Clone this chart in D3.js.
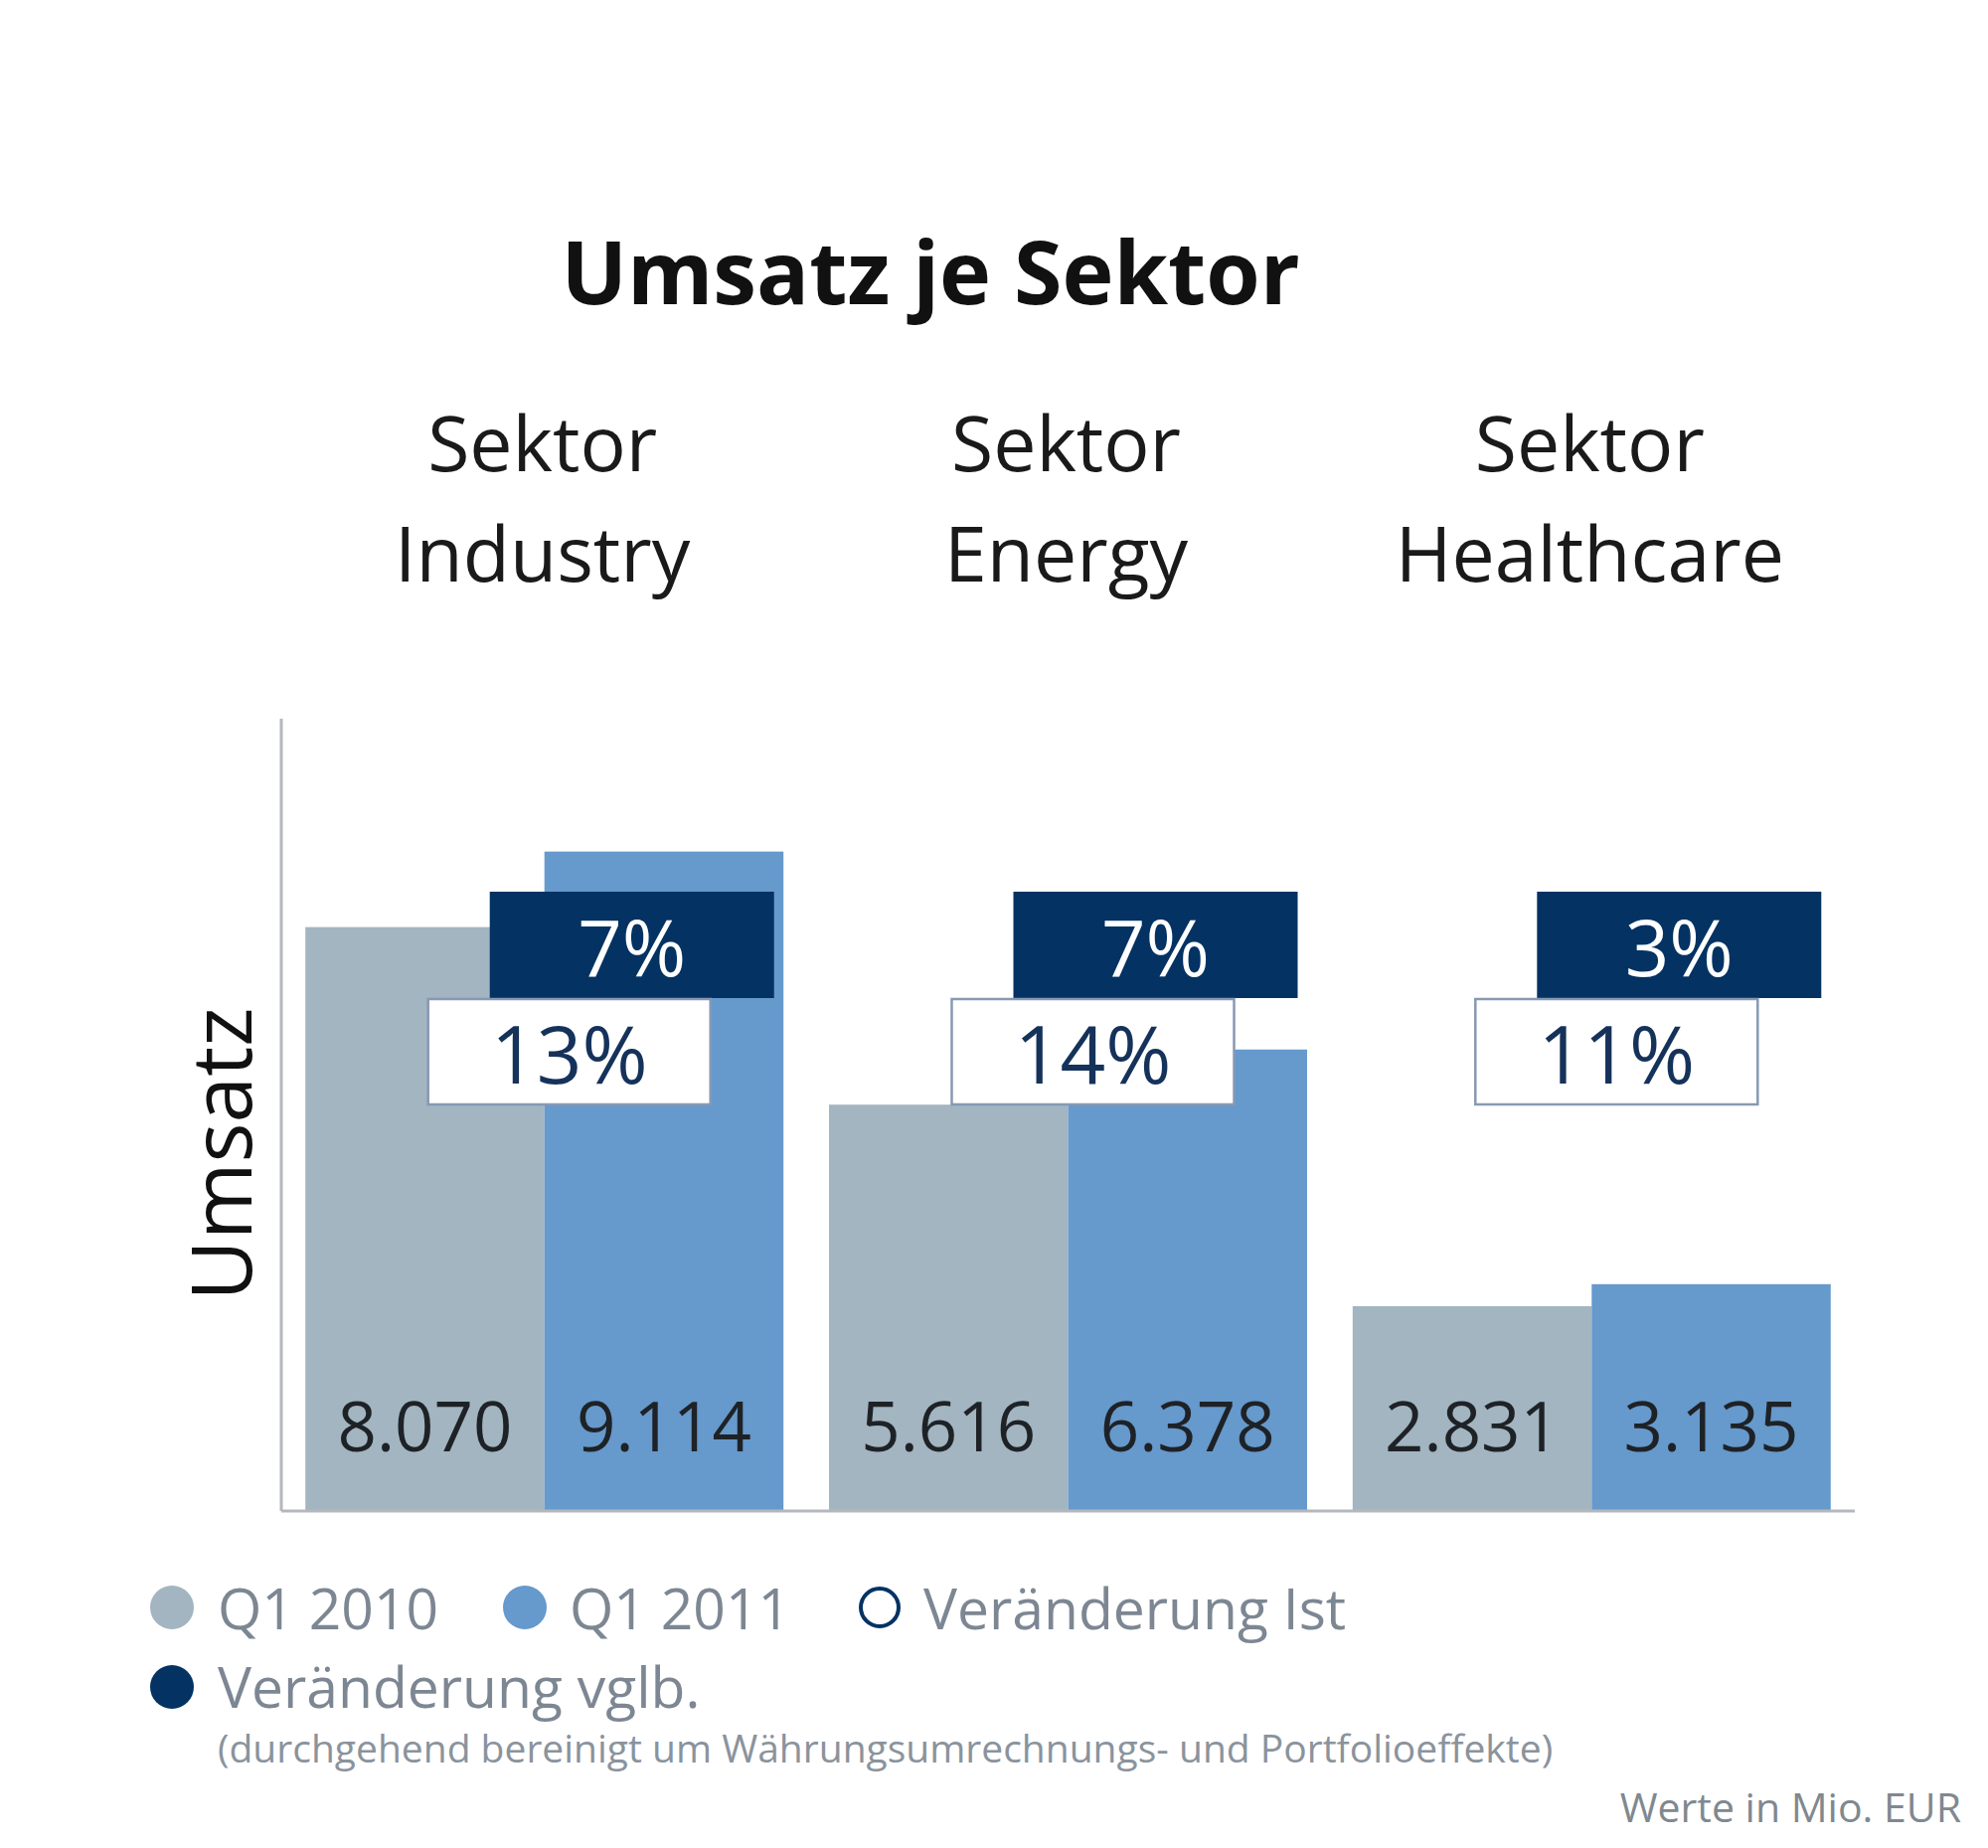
<!DOCTYPE html>
<html><head><meta charset="utf-8">
<script src="https://cdn.jsdelivr.net/npm/d3@7"></script>
<style>html,body{margin:0;padding:0;background:#fff;} svg{display:block;}</style>
</head><body>
<svg id="chart" width="2000" height="1859"></svg>
<script>
const categories = ["Sektor Industry", "Sektor Energy", "Sektor Healthcare"];
const catLines = [["Sektor","Industry"],["Sektor","Energy"],["Sektor","Healthcare"]];
const seriesNames = ["Q1 2010", "Q1 2011"];
const q12010 = [8070, 5616, 2831];
const q12011 = [9114, 6378, 3135];
const valueLabels2010 = ["8.070", "5.616", "2.831"];
const valueLabels2011 = ["9.114", "6.378", "3.135"];
const changeIst = ["13%", "14%", "11%"];
const changeVglb = ["7%", "7%", "3%"];
const legendItems = ["Q1 2010", "Q1 2011", "Veränderung Ist", "Veränderung vglb."];

(function () {
const colors = {q10: "#a2b5c1", q11: "#6699cc", dark: "#033263", boxBorder: "#8799b3", axis: "#b4b8bd"};
const font = "'Open Sans', 'Noto Sans', sans-serif";

const svg = d3.select("#chart");
const pLeft = 283, pRight = 1866, pTop = 723, pBottom = 1520;

const x0 = d3.scaleBand().domain(categories).range([pLeft, pRight]).paddingInner(0.087).paddingOuter(0.046);
const x1 = d3.scaleBand().domain(seriesNames).range([0, x0.bandwidth()]);
const y = d3.scaleLinear().domain([0, 10950]).range([pBottom, pTop]);

// Title
svg.append("text").attr("x", 936).attr("y", 306).attr("text-anchor", "middle")
  .attr("font-family", font).attr("font-weight", 700).attr("font-size", 88).attr("fill", "#111")
  .text("Umsatz je Sektor");

// Category labels
categories.forEach((c, i) => {
  const cx = x0(c) + x0.bandwidth() / 2;
  const t = svg.append("text").attr("text-anchor", "middle").attr("font-family", font)
    .attr("font-size", 77).attr("fill", "#1a1a1a");
  catLines[i].forEach((ln, j) => {
    t.append("tspan").attr("x", cx - 2).attr("y", 474 + j * 111).text(ln);
  });
});

// Bars
const data = categories.map((c, i) => ({c, v: [q12010[i], q12011[i]], lab: [valueLabels2010[i], valueLabels2011[i]]}));
const g = svg.append("g");
data.forEach((d, i) => {
  seriesNames.forEach((s, k) => {
    const bx = x0(d.c) + x1(s);
    g.append("rect").attr("x", bx).attr("y", y(d.v[k])).attr("width", x1.bandwidth())
      .attr("height", y(0) - y(d.v[k])).attr("fill", k === 0 ? colors.q10 : colors.q11);
    g.append("text").attr("x", bx + x1.bandwidth() / 2).attr("y", 1460).attr("text-anchor", "middle")
      .attr("font-family", font).attr("font-size", 69).attr("fill", "#1e2226").text(d.lab[k]);
  });
});

// Axes
svg.append("line").attr("x1", pLeft).attr("x2", pLeft).attr("y1", pTop).attr("y2", pBottom)
  .attr("stroke", colors.axis).attr("stroke-width", 3);
svg.append("line").attr("x1", pLeft).attr("x2", pRight).attr("y1", pBottom).attr("y2", pBottom)
  .attr("stroke", colors.axis).attr("stroke-width", 3);

// Y axis title
svg.append("text").attr("transform", "translate(253,1161) rotate(-90)").attr("text-anchor", "middle")
  .attr("font-family", font).attr("font-size", 84).attr("fill", "#111").text("Umsatz");

// Change boxes
const boxW = 286, boxH = 107;
categories.forEach((c, i) => {
  const gc = x0(c) + x1("Q1 2011");
  const dcx = gc + 88, wcx = gc + 25;
  svg.append("rect").attr("x", dcx - boxW / 2).attr("y", 897).attr("width", boxW).attr("height", boxH)
    .attr("fill", colors.dark);
  svg.append("text").attr("x", dcx).attr("y", 982).attr("text-anchor", "middle").attr("font-family", font)
    .attr("font-size", 78).attr("fill", "#fff").text(changeVglb[i]);
  svg.append("rect").attr("x", wcx - boxW / 2 + 1).attr("y", 1005).attr("width", boxW - 2).attr("height", boxH - 1)
    .attr("fill", "#fff").attr("stroke", colors.boxBorder).attr("stroke-width", 2.5);
  svg.append("text").attr("x", wcx).attr("y", 1090).attr("text-anchor", "middle").attr("font-family", font)
    .attr("font-size", 80).attr("fill", "#15325a").text(changeIst[i]);
});

// Legend
const legPos = [{cx:173, cy:1617, tx:219, ty:1639}, {cx:528, cy:1617, tx:573, ty:1639},
                {cx:885, cy:1617, tx:929, ty:1639}, {cx:173, cy:1697, tx:219, ty:1718}];
const legStyle = [{fill: colors.q10, stroke: "none"}, {fill: colors.q11, stroke: "none"},
                  {fill: "#fff", stroke: colors.dark}, {fill: colors.dark, stroke: "none"}];
legendItems.forEach((name, i) => {
  const p = legPos[i];
  svg.append("circle").attr("cx", p.cx).attr("cy", p.cy).attr("r", legStyle[i].stroke === "none" ? 22 : 19)
    .attr("fill", legStyle[i].fill).attr("stroke", legStyle[i].stroke).attr("stroke-width", 4);
  svg.append("text").attr("x", p.tx).attr("y", p.ty).attr("font-family", font).attr("font-size", 57)
    .attr("fill", "#7d8793").text(name);
});
svg.append("text").attr("x", 219).attr("y", 1773).attr("font-family", font).attr("font-size", 39)
  .attr("fill", "#8a939d").text("(durchgehend bereinigt um Währungsumrechnungs- und Portfolioeffekte)");
svg.append("text").attr("x", 1973).attr("y", 1833).attr("text-anchor", "end").attr("font-family", font)
  .attr("font-size", 41).attr("fill", "#808890").text("Werte in Mio. EUR");
})();
</script>
</body></html>
